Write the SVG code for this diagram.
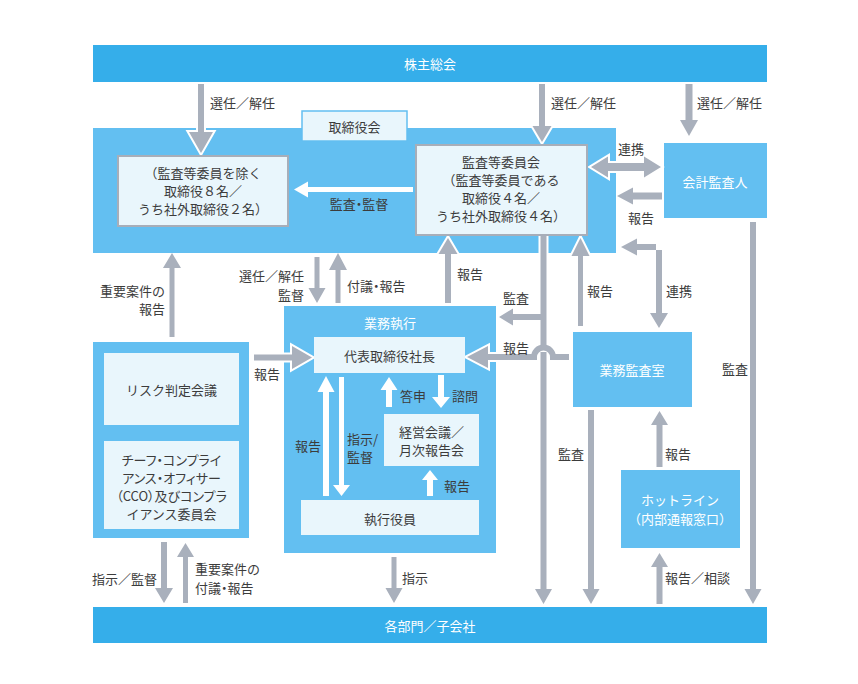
<svg xmlns="http://www.w3.org/2000/svg" width="858" height="684" viewBox="0 0 858 684">
<style>
text{font-family:"Noto Sans CJK JP","Noto Sans",sans-serif;font-size:13px;fill:#3c3c3c;dominant-baseline:central}
.p{font-feature-settings:"palt"}
.w{fill:#ffffff}
.c{text-anchor:middle}
.r{text-anchor:end}
.bar{fill:#35aeea}
.blue{fill:#63bff1}
.lt{fill:#e9f6fc}
.ltg{fill:#e9f6fc;stroke:#a7aeb9;stroke-width:2}
.ltb{fill:#e9f6fc;stroke:#63bff1;stroke-width:1.5}
.arr{fill:#a9b0bc}
.arro{fill:#a9b0bc;stroke:#ffffff;stroke-width:4;paint-order:stroke;stroke-linejoin:miter}
.warr{fill:#ffffff}
.ln{fill:none;stroke:#a9b0bc;stroke-width:6}
</style>
<rect width="858" height="684" fill="#ffffff"/>
<g id="shareholders"><rect class="bar" x="93" y="45" width="674" height="37"/><text class="w c" x="430" y="63">株主総会</text></g>
<g id="board"><rect class="blue" x="93" y="128" width="523" height="125"/></g>
<g id="risk-group"><rect class="blue" x="93" y="342" width="156" height="196"/></g>
<g id="execution"><rect class="blue" x="284" y="306" width="212" height="247"/><text class="w c" x="390" y="322">業務執行</text></g>
<g id="auditor"><rect class="blue" x="664" y="143" width="103" height="75"/><text class="w c" x="715" y="181">会計監査人</text></g>
<g id="internal-audit"><rect class="blue" x="573" y="332" width="119" height="75"/><text class="w c" x="632" y="369">業務監査室</text></g>
<g id="hotline"><rect class="blue" x="621" y="470" width="119" height="78"/><text class="w c" x="680" y="499">ホットライン</text><text class="w c" x="680" y="518">（内部通報窓口）</text></g>
<g id="departments"><rect class="bar" x="93" y="607" width="674" height="36"/><text class="w c" x="430" y="625">各部門／子会社</text></g>

<g id="connectors">
<polygon class="arro" points="198,84 204,84 204,132 213,132 201,153 189,132 198,132"/>
<polygon class="arro" points="539,84 545,84 545,126 551.5,126 542,142 532.5,126 539,126"/>
<polygon class="arr" points="685.5,84 692.5,84 692.5,120 698,120 689,136 680,120 685.5,120"/>
<polygon class="warr" points="413,187 308,187 308,181.5 294,189.5 308,197.5 308,192 413,192"/>
<polygon class="arro" points="591,167 608,156.5 608,163 644,163 644,156.5 661,167 644,177.5 644,171 608,171 608,177.5"/>
<polygon class="arr" points="662,192.5 633,192.5 633,187.5 617,196 633,204.5 633,199.5 662,199.5"/>
<polygon class="arr" points="750,222 756,222 756,589 761.5,589 753,604 744.5,589 750,589"/>
<polygon class="arr" points="169.5,337 169.5,268 163,268 172,253 181,268 174.5,268 174.5,337"/>
<polygon class="arr" points="314.5,257 319.5,257 319.5,288 325.5,288 317,303 308.5,288 314.5,288"/>
<polygon class="arr" points="335.5,303 335.5,270 329,270 338,253 347,270 340.5,270 340.5,303"/>
<polygon class="arro" points="445,303 445,254 438.5,254 448,238 457.5,254 451,254 451,303"/>
<polygon class="arro" points="540.5,236 546.5,236 546.5,346 540.5,346"/>
<polygon class="arr" points="543,314 513,314 513,308.5 499,317 513,325.5 513,320 543,320"/>
<polygon class="arr" points="540.5,352 546.5,352 546.5,589 552,589 543.5,604 535,589 540.5,589"/>
<polygon class="arro" points="467,357 488,346 488,354 500,354 500,360 488,360 488,368"/>
<path class="ln" d="M569,357 H553 A9.5,9.5 0 0 0 534,357 H497"/>
<polygon class="arro" points="578,326 578,256 571.5,256 580.5,238 589.5,256 583,256 583,326"/>
<polygon class="arr" points="621,247 637,238.5 637,244 656,244 656,313 650,313 659,328 668,313 662,313 662,250 637,250 637,255.5"/>
<polygon class="arro" points="254,354.5 292,354.5 292,346 312,357.5 292,369 292,360.5 254,360.5"/>
<polygon class="warr" points="386,407 386,390 380.5,390 389,377 397.5,390 392,390 392,407"/>
<polygon class="warr" points="438,375 444,375 444,397 450,397 441,408 432,397 438,397"/>
<polygon class="warr" points="323,496 323,392 317.5,392 326,376 334.5,392 329,392 329,496"/>
<polygon class="warr" points="339,377 344,377 344,485 350,485 341.5,496 333,485 339,485"/>
<polygon class="warr" points="427,496 427,480 422,480 430,470 438,480 433,480 433,496"/>
<polygon class="arr" points="161,542 167,542 167,588 173,588 164,603 155,588 161,588"/>
<polygon class="arr" points="183,603 183,557 177,557 185.5,543 194,557 188,557 188,603"/>
<polygon class="arr" points="391.5,557 396.5,557 396.5,588 402.5,588 394,603 385.5,588 391.5,588"/>
<polygon class="arr" points="588,410 594,410 594,589 599.5,589 591,604 582.5,589 588,589"/>
<polygon class="arr" points="656.5,467 656.5,425 651,425 659.5,411 668,425 662.5,425 662.5,467"/>
<polygon class="arr" points="656.5,604 656.5,567 651,567 659.5,553 668,567 662.5,567 662.5,604"/>
<text x="210" y="102">選任／解任</text>
<text x="551" y="102">選任／解任</text>
<text x="697" y="102">選任／解任</text>
<text class="c p" x="359" y="203">監査・監督</text>
<text class="c" x="631" y="148">連携</text>
<text class="c" x="641" y="217">報告</text>
<text class="r" x="165" y="290">重要案件の</text>
<text class="r" x="165" y="308">報告</text>
<text class="r" x="304" y="275">選任／解任</text>
<text class="r" x="304" y="294">監督</text>
<text class="p" x="347" y="285">付議・報告</text>
<text x="457" y="273">報告</text>
<text x="503" y="297">監査</text>
<text x="503" y="347">報告</text>
<text x="587" y="290">報告</text>
<text x="666" y="290">連携</text>
<text x="722" y="368">監査</text>
<text x="254" y="373">報告</text>
<text x="400" y="395">答申</text>
<text x="452" y="395">諮問</text>
<text x="295" y="445">報告</text>
<text x="347" y="438">指示/</text>
<text x="347" y="456">監督</text>
<text x="444" y="485">報告</text>
<text x="558" y="453">監査</text>
<text x="665" y="453">報告</text>
<text x="665" y="577">報告／相談</text>
<text x="402" y="577">指示</text>
<text class="r" x="157" y="578">指示／監督</text>
<text x="195" y="568">重要案件の</text>
<text class="p" x="195" y="587">付議・報告</text>
</g>

<g id="board-label"><rect class="ltb" x="302" y="111" width="105" height="30"/><text class="c" x="354.5" y="126">取締役会</text></g>
<g id="directors"><rect class="ltg" x="118" y="156" width="170" height="70"/><text class="c" x="203" y="172">（監査等委員を除く</text><text class="c" x="203" y="190">取締役８名／</text><text class="c" x="203" y="208">うち社外取締役２名）</text></g>
<g id="audit-committee"><rect class="ltg" x="416" y="145" width="171" height="90"/><text class="c" x="501" y="161">監査等委員会</text><text class="c" x="501" y="179">（監査等委員である</text><text class="c" x="501" y="197">取締役４名／</text><text class="c" x="501" y="215">うち社外取締役４名）</text></g>
<g id="risk-committee"><rect class="lt" x="104" y="353" width="135" height="72"/><text class="c" x="171.5" y="389">リスク判定会議</text></g>
<g id="cco"><rect class="lt" x="104" y="441" width="135" height="88"/><text class="c p" x="171.5" y="459">チーフ・コンプライ</text><text class="c p" x="171.5" y="477">アンス・オフィサー</text><text class="c p" x="171.5" y="495">（CCO）及びコンプラ</text><text class="c" x="171.5" y="513">イアンス委員会</text></g>
<g id="president"><rect class="lt" x="314" y="337" width="151" height="36"/><text class="c" x="389.5" y="355">代表取締役社長</text></g>
<g id="management-meeting"><rect class="lt" x="384" y="414" width="95" height="52"/><text class="c" x="431.5" y="431">経営会議／</text><text class="c" x="431.5" y="449">月次報告会</text></g>
<g id="officers"><rect class="lt" x="301" y="500" width="178" height="35"/><text class="c" x="390" y="518">執行役員</text></g>
</svg>
